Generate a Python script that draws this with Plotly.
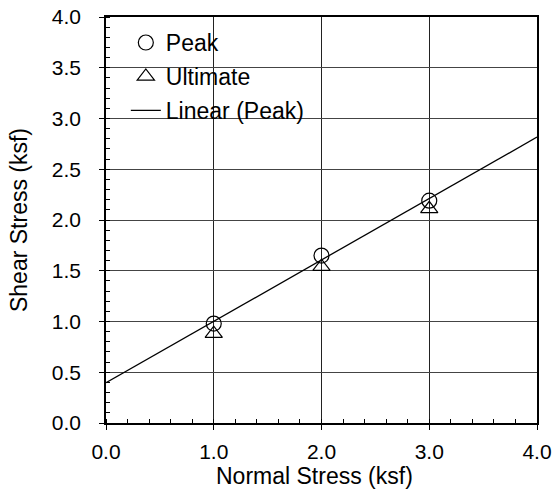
import numpy as np
import plotly.graph_objects as go

# Direct shear test results
normal_stress = [1.0, 2.0, 3.0]          # ksf
peak_shear = [0.98, 1.65, 2.19]          # ksf
ultimate_shear = [0.88, 1.54, 2.11]      # ksf

x_range = [0.0, 4.0]
y_range = [0.0, 4.0]

# Least-squares line through the peak values
slope, intercept = np.polyfit(normal_stress, peak_shear, 1)
fit_x = np.array(x_range)
fit_y = intercept + slope * fit_x

FONT = "Liberation Sans, Arial, sans-serif"

fig = go.Figure()

fig.add_trace(go.Scatter(
    x=normal_stress, y=peak_shear, mode="markers", name="Peak",
    legendgroup="a",
    marker=dict(symbol="circle-open", size=15, color="black",
                line=dict(width=1.2, color="black")),
))
fig.add_trace(go.Scatter(
    x=normal_stress, y=ultimate_shear, mode="markers", name="Ultimate",
    legendgroup="b",
    marker=dict(symbol="triangle-up-open", size=15, color="black",
                line=dict(width=1.2, color="black")),
))
fig.add_trace(go.Scatter(
    x=fit_x, y=fit_y, mode="lines", name="Linear (Peak)",
    legendgroup="c",
    line=dict(color="black", width=1.3),
))

# White panel behind the legend, drawn over the grid but under the data
fig.add_shape(type="rect", xref="paper", yref="paper",
              x0=0, x1=0.505, y0=0.735, y1=1,
              fillcolor="white", line=dict(width=0), layer="between")

# Horizontal axis title
fig.add_annotation(text="Normal Stress (ksf)", xref="paper", yref="paper",
                   x=0.484, y=-0.131, xanchor="center", yanchor="middle",
                   showarrow=False,
                   font=dict(family=FONT, size=23, color="black"))

axis_common = dict(
    showline=True, linecolor="black", linewidth=1.5, mirror=True,
    ticks="outside", ticklen=5, tickwidth=1.2, tickcolor="black",
    tickformat=".1f",
    tickfont=dict(family=FONT, size=21, color="black"),
    zeroline=False,
)

fig.update_xaxes(
    range=x_range, dtick=1.0, tick0=0,
    showgrid=True, gridcolor="#222222", gridwidth=1.2,
    minor=dict(dtick=0.2, ticks="inside", ticklen=4, tickcolor="black", showgrid=False),
    ticklabelstandoff=4,
    **axis_common,
)
fig.update_yaxes(
    range=y_range, dtick=0.5, tick0=0,
    showgrid=True, gridcolor="#444444", gridwidth=1,
    minor=dict(dtick=0.1, ticks="inside", ticklen=4, tickcolor="black", showgrid=False),
    title=dict(text="Shear Stress (ksf)", font=dict(family=FONT, size=23, color="black"),
               standoff=18),
    ticklabelstandoff=14,
    **axis_common,
)

fig.update_layout(
    width=555, height=494,
    margin=dict(l=106, r=18, t=17, b=71, autoexpand=False),
    paper_bgcolor="white", plot_bgcolor="white",
    font=dict(family=FONT, size=22, color="black"),
    showlegend=True,
    legend=dict(
        x=0.046, y=0.99, xanchor="left", yanchor="top",
        bgcolor="rgba(0,0,0,0)", borderwidth=0,
        font=dict(family=FONT, size=23, color="black"),
        traceorder="grouped", tracegroupgap=1,
    ),
)

fig.write_html("out.html")
